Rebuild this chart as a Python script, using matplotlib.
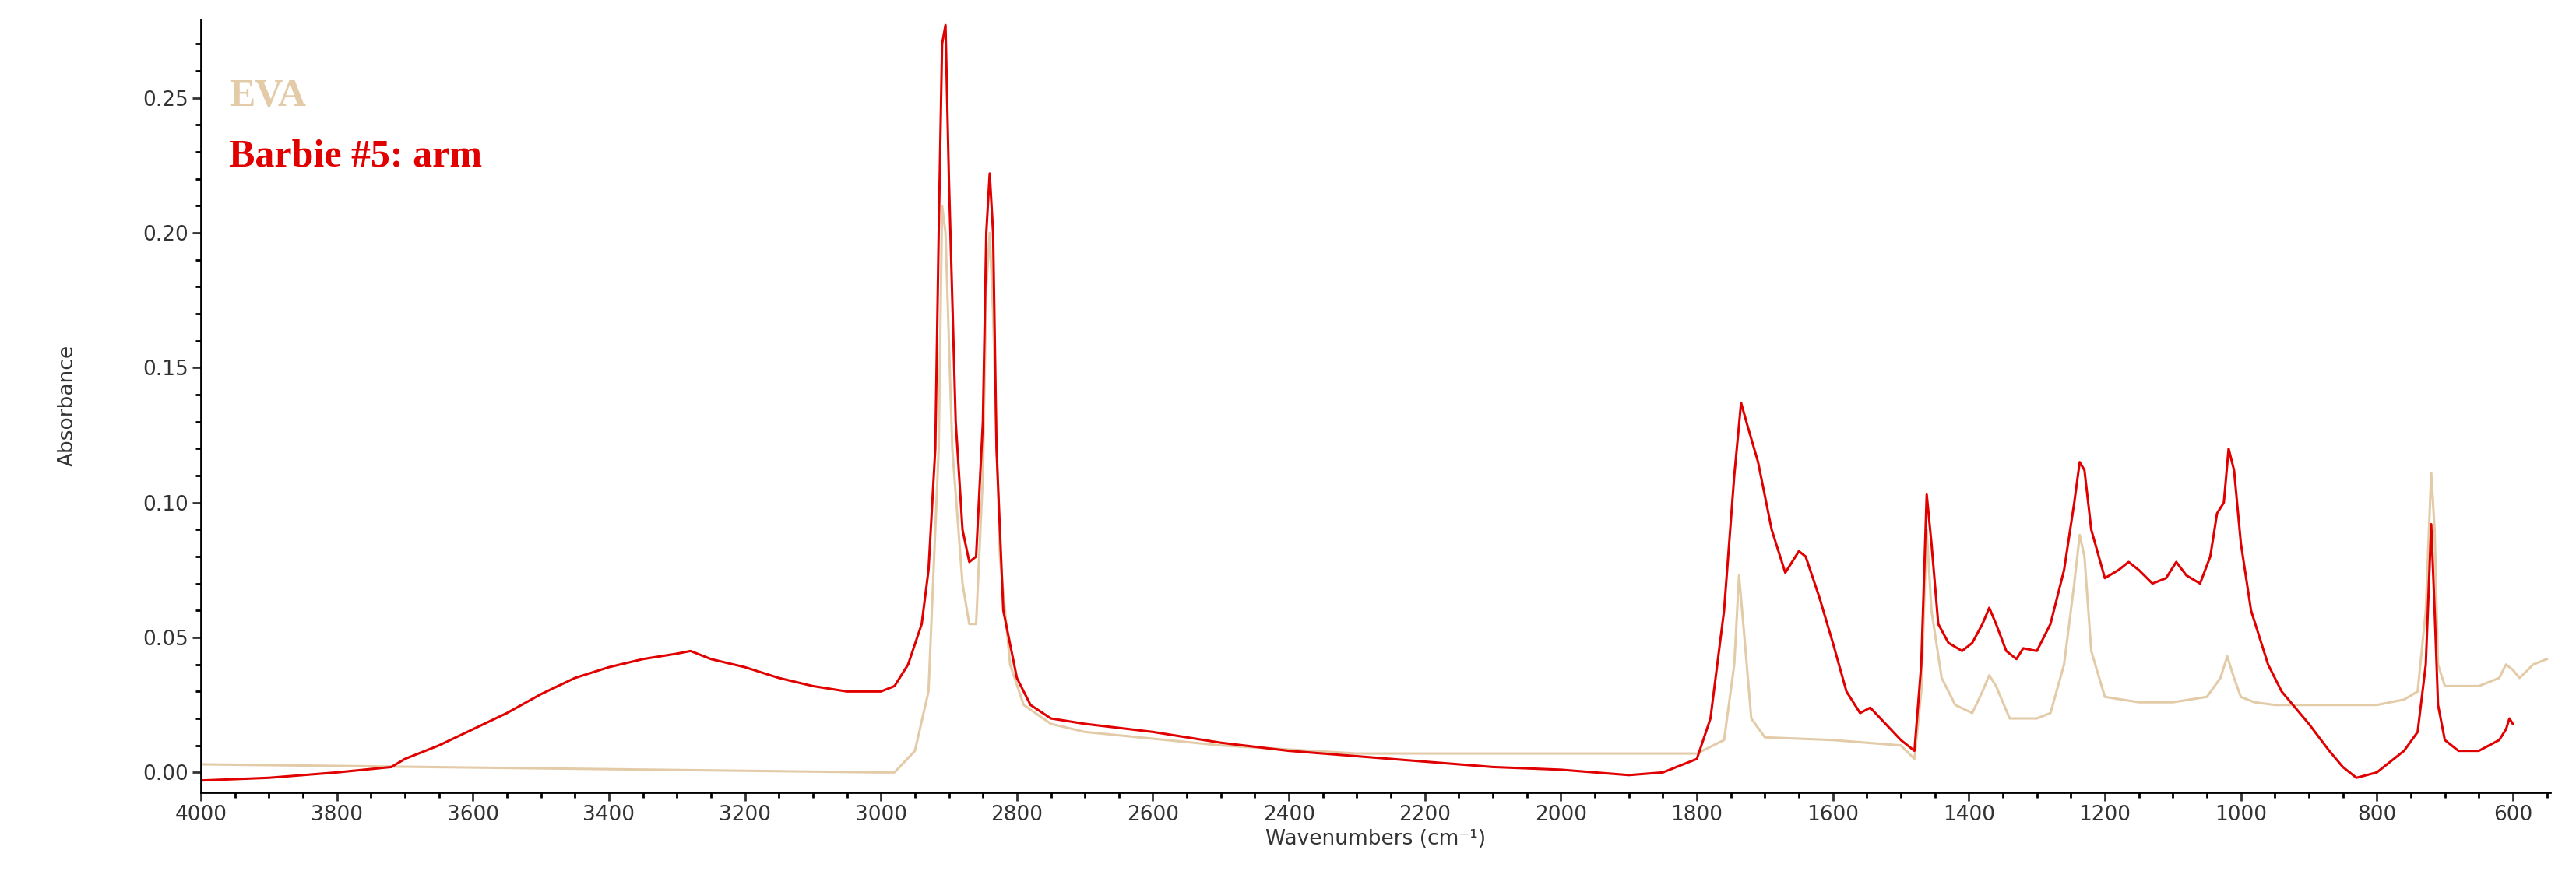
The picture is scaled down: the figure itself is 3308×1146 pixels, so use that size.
import matplotlib
matplotlib.use("Agg")
import matplotlib.pyplot as plt
from matplotlib.ticker import MultipleLocator

red_x = [4000,3900,3800,3720,3700,3650,3600,3550,3500,3450,3400,3350,3300,3280,3250,3200,3150,3100,3050,3000,2980,2960,2940,2930,2920,2915,2910,2905,2900,2890,2880,2870,2860,2850,2845,2840,2835,2830,2820,2800,2780,2750,2700,2600,2500,2400,2300,2200,2100,2000,1900,1850,1800,1780,1760,1745,1735,1725,1710,1690,1670,1650,1640,1620,1600,1580,1560,1545,1530,1500,1480,1470,1462,1455,1445,1430,1410,1395,1380,1370,1360,1345,1330,1320,1300,1280,1260,1245,1237,1230,1220,1200,1180,1165,1150,1130,1110,1095,1080,1060,1045,1035,1025,1018,1010,1000,985,960,940,900,870,850,830,800,760,740,728,720,715,710,700,680,650,620,610,605,600]
red_y = [-0.003,-0.002,0.000,0.002,0.005,0.010,0.016,0.022,0.029,0.035,0.039,0.042,0.044,0.045,0.042,0.039,0.035,0.032,0.030,0.030,0.032,0.040,0.055,0.075,0.120,0.200,0.270,0.277,0.220,0.130,0.090,0.078,0.080,0.130,0.200,0.222,0.200,0.120,0.060,0.035,0.025,0.020,0.018,0.015,0.011,0.008,0.006,0.004,0.002,0.001,-0.001,0.000,0.005,0.020,0.060,0.110,0.137,0.128,0.115,0.090,0.074,0.082,0.080,0.065,0.048,0.030,0.022,0.024,0.020,0.012,0.008,0.040,0.103,0.085,0.055,0.048,0.045,0.048,0.055,0.061,0.055,0.045,0.042,0.046,0.045,0.055,0.075,0.100,0.115,0.112,0.090,0.072,0.075,0.078,0.075,0.070,0.072,0.078,0.073,0.070,0.080,0.096,0.100,0.120,0.112,0.085,0.060,0.040,0.030,0.018,0.008,0.002,-0.002,0.000,0.008,0.015,0.040,0.092,0.060,0.025,0.012,0.008,0.008,0.012,0.016,0.020,0.018]

eva_x = [4000,3000,2980,2950,2930,2915,2910,2905,2895,2880,2870,2860,2850,2845,2840,2835,2825,2810,2790,2750,2700,2500,2300,2000,1800,1760,1745,1738,1730,1720,1700,1600,1500,1480,1470,1462,1455,1440,1420,1395,1380,1370,1360,1340,1300,1280,1260,1245,1237,1230,1220,1200,1150,1100,1050,1030,1020,1010,1000,980,950,900,800,760,740,728,720,715,710,700,650,620,610,600,590,570,550]
eva_y = [0.003,0.000,0.000,0.008,0.030,0.120,0.210,0.200,0.120,0.070,0.055,0.055,0.110,0.180,0.200,0.170,0.080,0.040,0.025,0.018,0.015,0.010,0.007,0.007,0.007,0.012,0.040,0.073,0.050,0.020,0.013,0.012,0.010,0.005,0.030,0.090,0.060,0.035,0.025,0.022,0.030,0.036,0.032,0.020,0.020,0.022,0.040,0.070,0.088,0.080,0.045,0.028,0.026,0.026,0.028,0.035,0.043,0.035,0.028,0.026,0.025,0.025,0.025,0.027,0.030,0.060,0.111,0.090,0.040,0.032,0.032,0.035,0.040,0.038,0.035,0.040,0.042]

series_labels = ["EVA", "Barbie #5: arm"]

fig = plt.figure(figsize=(33.08, 11.46), dpi=100)
ax = fig.add_axes([0.078, 0.112, 0.912, 0.866])
ax.plot(eva_x, eva_y, color="#E3CBA8", lw=2.2)
ax.plot(red_x, red_y, color="#E00000", lw=2.2)
ax.set_xlim(4000, 545)
ax.set_ylim(-0.0073, 0.279)
ax.xaxis.set_major_locator(MultipleLocator(200))
ax.xaxis.set_minor_locator(MultipleLocator(50))
ax.yaxis.set_major_locator(MultipleLocator(0.05))
ax.yaxis.set_minor_locator(MultipleLocator(0.01))
ax.yaxis.set_major_formatter(matplotlib.ticker.FormatStrFormatter("%.2f"))
for s in ["top", "right"]:
    ax.spines[s].set_visible(False)
for s in ["left", "bottom"]:
    ax.spines[s].set_linewidth(2)
ax.tick_params(which="major", length=8, width=2, labelsize=19, colors="#333333")
ax.tick_params(which="minor", length=5, width=2)
ax.set_xlabel("Wavenumbers (cm⁻¹)", fontsize=19, color="#333333")
ax.set_ylabel("Absorbance", fontsize=19, color="#333333", labelpad=60)
ax.text(0.012, 0.90, series_labels[0], transform=ax.transAxes, fontsize=36, va="center",
        fontweight="bold", family="Liberation Serif", color="#E3CBA8")
ax.text(0.012, 0.822, series_labels[1], transform=ax.transAxes, fontsize=36, va="center",
        fontweight="bold", family="Liberation Serif", color="#E00000")
fig.savefig("out.png", dpi=100)
